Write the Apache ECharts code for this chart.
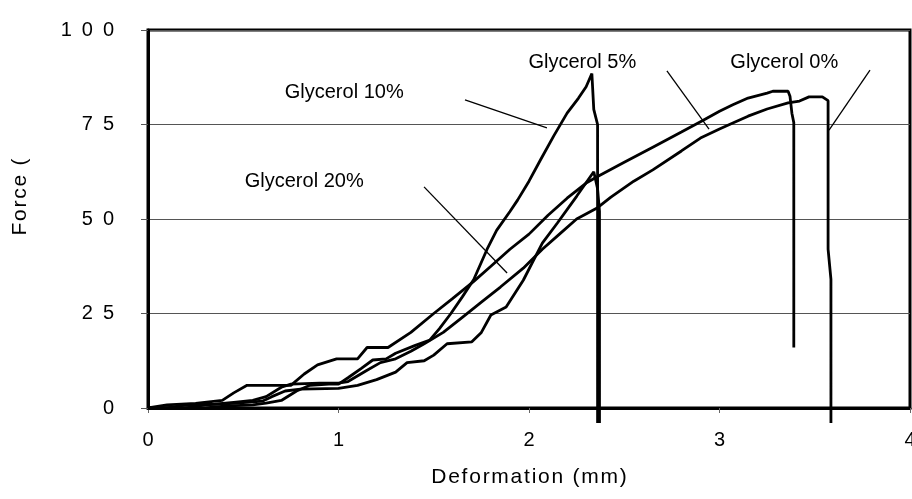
<!DOCTYPE html>
<html>
<head>
<meta charset="utf-8">
<script src="https://cdn.jsdelivr.net/npm/echarts@6/dist/echarts.min.js"></script>
<style>
  html, body { margin: 0; padding: 0; background: #fff; }
  #chart { width: 912px; height: 499px; }
</style>
</head>
<body>
<div id="chart"></div>
<script>
// deformation (mm) / force pairs
var glycerol0 = [
  [0, 0], [0.1, 0], [0.2, 0.8], [0.35, 1], [0.45, 1.5], [0.55, 2], [0.62, 3], [0.7, 5.5],
  [0.75, 6.3], [0.9, 6.6], [1.0, 6.6], [1.05, 7], [1.15, 10], [1.22, 12], [1.3, 13],
  [1.38, 15], [1.45, 17], [1.55, 20], [1.65, 24], [1.75, 28], [1.85, 32], [1.97, 37],
  [2.07, 42], [2.16, 46], [2.25, 50], [2.36, 53], [2.43, 55.8], [2.55, 60], [2.65, 63],
  [2.8, 68], [2.9, 71.4], [3.0, 73.8], [3.07, 75.4], [3.15, 77.2], [3.25, 79.1], [3.36, 80.7],
  [3.42, 81.2], [3.47, 82.3], [3.54, 82.3], [3.57, 81.3], [3.57, 75], [3.57, 42],
  [3.585, 34], [3.585, -4]
];
var glycerol5 = [
  [0, 0], [0.1, 0.8], [0.25, 1.2], [0.39, 2], [0.45, 4], [0.52, 6], [0.75, 6], [0.82, 9],
  [0.89, 11.4], [0.99, 13], [1.1, 13], [1.15, 16], [1.26, 16], [1.38, 20], [1.5, 25],
  [1.6, 29], [1.71, 33.5], [1.8, 37.5], [1.9, 42], [2.0, 46], [2.1, 51], [2.2, 55.5],
  [2.3, 59.5], [2.37, 61.5], [2.5, 65], [2.65, 69], [2.8, 73], [2.91, 76], [3.0, 78.5],
  [3.07, 80.2], [3.15, 82], [3.25, 83.3], [3.28, 83.8], [3.36, 83.8], [3.37, 82.5],
  [3.38, 78], [3.39, 75.5], [3.39, 16]
];
var glycerol10 = [
  [0, 0], [0.3, 0], [0.4, 0.5], [0.55, 0.8], [0.62, 1.3], [0.7, 2], [0.78, 4.5], [0.85, 6],
  [0.95, 6.3], [1.0, 6.3], [1.05, 8], [1.12, 10.5], [1.18, 12.7], [1.25, 13], [1.3, 14.5],
  [1.4, 16.5], [1.48, 18], [1.53, 21], [1.59, 25], [1.65, 29.4], [1.71, 34], [1.78, 42],
  [1.83, 47], [1.9, 52], [1.94, 55], [2.0, 60], [2.06, 65.6], [2.13, 72], [2.2, 78],
  [2.26, 82], [2.3, 85], [2.33, 88.5], [2.34, 88.5], [2.34, 79], [2.36, 75], [2.36, -4]
];
var glycerol20 = [
  [0, 0], [0.2, 0], [0.3, 0.8], [0.45, 1.2], [0.6, 1.8], [0.65, 3], [0.72, 4.5], [0.8, 5],
  [1.0, 5.2], [1.1, 6], [1.2, 7.5], [1.3, 9.5], [1.36, 12], [1.45, 12.5], [1.5, 14],
  [1.57, 17], [1.7, 17.5], [1.75, 20], [1.8, 24.6], [1.88, 26.7], [1.97, 33.8], [2.07, 43.6],
  [2.15, 49], [2.25, 56], [2.34, 62.5], [2.35, 62.5], [2.36, 58], [2.37, 52], [2.37, -4]
];

var seriesNames = ['Glycerol 0%', 'Glycerol 5%', 'Glycerol 10%', 'Glycerol 20%'];
// label centre and pointer line (from, to), in data units
var labelPos = [[3.34, 91.3], [2.28, 91.3], [1.03, 83.6], [0.82, 60]];
var pointers = [
  [[3.79, 89.4], [3.575, 73.5]],
  [[2.724, 89.2], [2.945, 73.8]],
  [[1.664, 81.5], [2.094, 74.1]],
  [[1.449, 58.5], [1.885, 35.7]]
];

var xTicks = [0, 1, 2, 3, 4];
var yTicks = [0, 25, 50, 75, 100];

(function () {
  var myChart = echarts.init(document.getElementById('chart'));
  var font = 'Liberation Sans, Arial, sans-serif';
  var spaced = function (s, sep) { return String(s).split('').join(sep); };

  var curves = [glycerol0, glycerol5, glycerol10, glycerol20];
  var series = curves.map(function (d, i) {
    return {
      name: seriesNames[i],
      type: 'line',
      data: d,
      showSymbol: false,
      clip: false,
      silent: true,
      lineStyle: { color: '#000', width: 2.8 },
      markPoint: {
        symbol: 'circle',
        symbolSize: 0,
        silent: true,
        label: {
          show: true,
          position: 'inside',
          color: '#000',
          fontFamily: font,
          fontSize: 20,
          formatter: seriesNames[i]
        },
        data: [{ coord: labelPos[i] }]
      },
      markLine: {
        symbol: 'none',
        silent: true,
        label: { show: false },
        lineStyle: { color: '#000', width: 1.3, type: 'solid' },
        data: [[{ coord: pointers[i][0] }, { coord: pointers[i][1] }]]
      }
    };
  });

  var option = {
    animation: false,
    backgroundColor: '#fff',
    grid: {
      left: 148,
      right: 2,
      top: 30,
      bottom: 91,
      outerBoundsMode: 'none',
      containLabel: false,
      show: true,
      borderColor: '#000',
      borderWidth: 3
    },
    xAxis: {
      type: 'value',
      min: xTicks[0],
      max: xTicks[xTicks.length - 1],
      interval: 1,
      name: spaced('Deformation (mm)', '\u200A'),
      nameLocation: 'middle',
      nameGap: 59,
      nameTextStyle: { color: '#000', fontFamily: font, fontSize: 21 },
      axisLine: { lineStyle: { color: '#000', width: 3 } },
      axisTick: { show: true, length: 5, lineStyle: { color: '#666', width: 1 } },
      axisLabel: { color: '#000', fontFamily: font, fontSize: 20, margin: 22 },
      splitLine: { show: false }
    },
    yAxis: {
      type: 'value',
      min: yTicks[0],
      max: yTicks[yTicks.length - 1],
      interval: 25,
      name: spaced('Force (', '\u200A'),
      nameLocation: 'middle',
      nameGap: 117,
      nameTextStyle: { color: '#000', fontFamily: font, fontSize: 21, padding: [0, 0, 0, 44] },
      axisLine: { lineStyle: { color: '#000', width: 3 } },
      axisTick: { show: true, length: 7, lineStyle: { color: '#555', width: 1 } },
      axisLabel: {
        color: '#000', fontFamily: font, fontSize: 20, margin: 34,
        formatter: function (v) { return spaced(v, '\u2002'); }
      },
      splitLine: { show: true, lineStyle: { color: '#555', width: 1 } }
    },
    series: series
  };

  myChart.setOption(option);
  window.addEventListener('resize', myChart.resize);
})();
</script>
</body>
</html>
